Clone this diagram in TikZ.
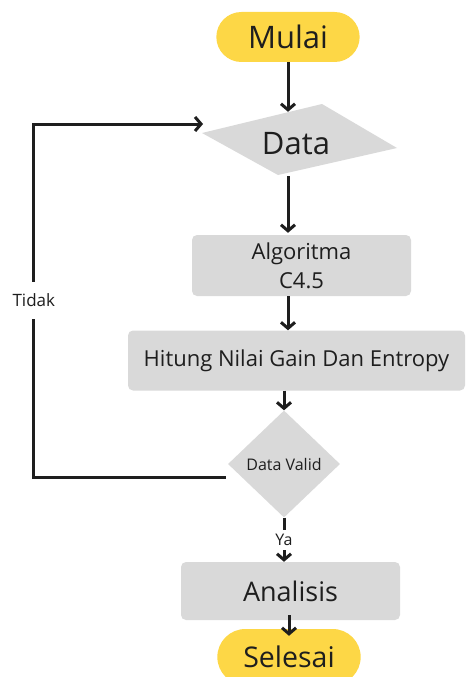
\documentclass[tikz,border=0pt]{standalone}
\usepackage{fontspec}
\setmainfont{Open Sans}
\usetikzlibrary{shapes,arrows,arrows.meta}
\usetikzlibrary{positioning,backgrounds,calc}
\definecolor{pillyellow}{RGB}{253,215,70}
\definecolor{boxgray}{RGB}{217,217,217}
\definecolor{inkblack}{RGB}{30,30,30}
\tikzset{terminal/.style={rounded rectangle, fill=pillyellow, text=inkblack, minimum width=150pt, minimum height=50pt},
process/.style={rectangle, rounded corners=5pt, fill=boxgray, text=inkblack, align=center, inner sep=0pt},
decision/.style={diamond, fill=boxgray, text=inkblack, inner sep=0pt, minimum width=112pt, minimum height=107pt},
flow/.style={-{Straight Barb[length=6pt,width=14pt]}, line width=3pt, color=inkblack},
branch/.style={fill=white, text=inkblack, font=\fontsize{16}{19}\selectfont, inner xsep=2pt, inner ysep=4pt}
}

\begin{document}
\begin{tikzpicture}[x=1pt, y=-1pt, node distance=100pt, on grid]
            \clip (0,0) rectangle (468,677);
            \useasboundingbox (0,0) rectangle (468,677);
            \node[terminal, font=\fontsize{31}{36}\selectfont] (mulai) at (288,37) {Mulai};
            \node[inner sep=0pt, minimum width=195pt, minimum height=64pt, text=inkblack, font=\fontsize{31}{36}\selectfont] (data) [below=107pt of mulai, xshift=8pt] {Data};
            \node[process, minimum width=219pt, minimum height=61pt, font=\fontsize{22}{29}\selectfont] (algo) [below=121.5pt of data, xshift=5.5pt] {Algoritma\\C4.5};
            \node[process, minimum width=337pt, minimum height=60pt, font=\fontsize{22}{26}\selectfont] (hitung) [below=95pt of algo, xshift=-5pt] {Hitung Nilai Gain Dan Entropy};
            \node[decision, font=\fontsize{16}{19}\selectfont] (valid) [below=103.5pt of hitung, xshift=-12.5pt] {Data Valid};
            \node[process, minimum width=219pt, minimum height=58pt, font=\fontsize{27}{31}\selectfont] (analisis) [below=127pt of valid, xshift=6.5pt] {Analisis};
            \node[terminal, minimum height=56pt, font=\fontsize{28.5}{33}\selectfont] (selesai) [below=66pt of analisis, xshift=-1.5pt] {Selesai};
            % slanted data shape
            \begin{scope}[on background layer]
                \fill[boxgray] ($(data.center)+(-94,-11)$) -- ($(data.center)+(26,-40)$)
                    -- ($(data.center)+(101,4)$) -- ($(data.center)+(-18,31)$) -- cycle;
            \end{scope}
            \coordinate (dataleft) at ($(data.center)+(-93,-20)$);
            \coordinate (nostart) at ($(valid.west)+(-2,13)$);
            \coordinate (tidakcorner) at ($(nostart)+(-192,0)$);
            \path[flow]
                (mulai.south) edge (mulai.south |- data.north)
                (data.south -| mulai) edge[shorten >=2pt] (algo.north -| mulai)
                (algo.south -| mulai) edge (hitung.north -| mulai)
                (hitung.south -| valid) edge (valid.north)
                (analisis.south -| selesai) edge[shorten <=-5pt, shorten >=-7pt] (selesai.north);
            \draw[flow] (valid.south) -- node[branch] {Ya} (analisis.north -| valid.south);
            \draw[flow] (nostart) -- (tidakcorner) -- node[branch, font=\fontsize{17}{20}\selectfont, inner ysep=12pt] {Tidak} (tidakcorner |- dataleft) -- (dataleft);
        \end{tikzpicture}
\end{document}
